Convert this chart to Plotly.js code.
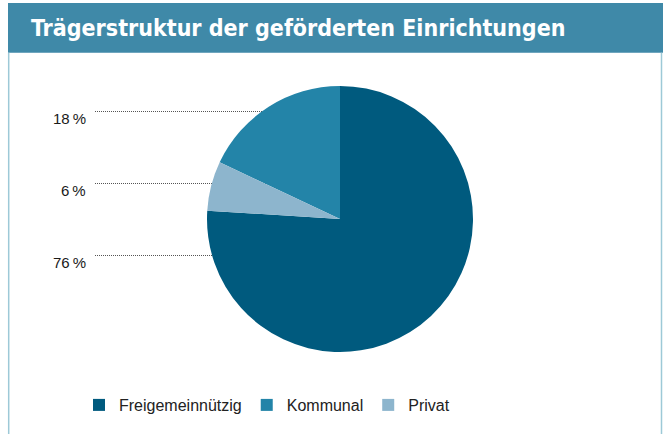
<!DOCTYPE html>
<html>
<head>
<meta charset="utf-8">
<script src="https://cdn.plot.ly/plotly-3.0.1.min.js"></script>
<style>html,body{margin:0;padding:0;background:#fff;}#chart{width:669px;height:434px;}</style>
</head>
<body>
<div id="chart"></div>
<script>
// Data
const categories = ['Freigemeinnützig', 'Kommunal', 'Privat'];
const shares = [76, 18, 6];
const sliceColors = ['#005a7e', '#2384a8', '#8db5cd'];
const titleText = 'Trägerstruktur der geförderten Einrichtungen';
// Order of percentage labels from top to bottom (index into categories)
const labelOrder = [1, 2, 0];

const W = 669, H = 434;
const px = x => x / W;
const py = y => 1 - y / H;

// pie geometry (layout)
const cx = 340, cy = 219, r = 133;

const labelY = [111.5, 183.5, 255.5];

const annotations = labelOrder.map((idx, k) => ({
  xref: 'paper', yref: 'paper',
  x: px(88), y: py(labelY[k] + 7),
  xanchor: 'right', yanchor: 'middle',
  text: shares[idx] + '\u2009%',
  showarrow: false,
  font: {family: 'Liberation Sans, Arial, sans-serif', size: 15, color: '#1a1a1a'}
}));

const shapes = [
  {type: 'rect', xref: 'paper', yref: 'paper', x0: px(8), x1: px(663), y0: py(52.7), y1: py(3),
   fillcolor: '#3f89a8', line: {width: 0}, layer: 'below'},
  {type: 'line', xref: 'paper', yref: 'paper', x0: px(8.7), x1: px(8.7), y0: py(52.7), y1: 0,
   line: {color: '#9dc9d7', width: 1.5}, layer: 'below'},
  {type: 'line', xref: 'paper', yref: 'paper', x0: px(661.5), x1: px(661.5), y0: py(52.7), y1: 0,
   line: {color: '#9dc9d7', width: 1.5}, layer: 'below'}
];
labelY.forEach(y => {
  shapes.push({type: 'line', xref: 'paper', yref: 'paper', x0: px(95), x1: px(cx), y0: py(y), y1: py(y),
    line: {color: '#555', width: 1, dash: '1px,1px'}, layer: 'below'});
});

const trace = {
  type: 'pie',
  labels: categories,
  values: shares,
  sort: false,
  direction: 'counterclockwise',
  rotation: 0,
  textinfo: 'none',
  hoverinfo: 'label+percent',
  marker: {colors: sliceColors, line: {width: 0}},
  domain: {x: [px(cx - r), px(cx + r)], y: [py(cy + r), py(cy - r)]}
};

const layout = {
  width: W, height: H,
  margin: {l: 0, r: 0, t: 0, b: 0},
  paper_bgcolor: '#fff',
  plot_bgcolor: '#fff',
  title: {
    text: titleText,
    xref: 'paper', yref: 'paper',
    x: px(31), xanchor: 'left',
    y: py(28), yanchor: 'middle',
    font: {family: 'DejaVu Sans Condensed, sans-serif', size: 23, color: '#fff', weight: 'bold'}
  },
  showlegend: true,
  legend: {
    orientation: 'h',
    x: px(79), xanchor: 'left',
    y: py(405), yanchor: 'middle',
    font: {family: 'Liberation Sans, Arial, sans-serif', size: 16, color: '#222'},
    bgcolor: 'rgba(0,0,0,0)',
    traceorder: 'normal'
  },
  shapes: shapes,
  annotations: annotations
};

Plotly.newPlot('chart', [trace], layout, {displayModeBar: false, staticPlot: true});
</script>
</body>
</html>
